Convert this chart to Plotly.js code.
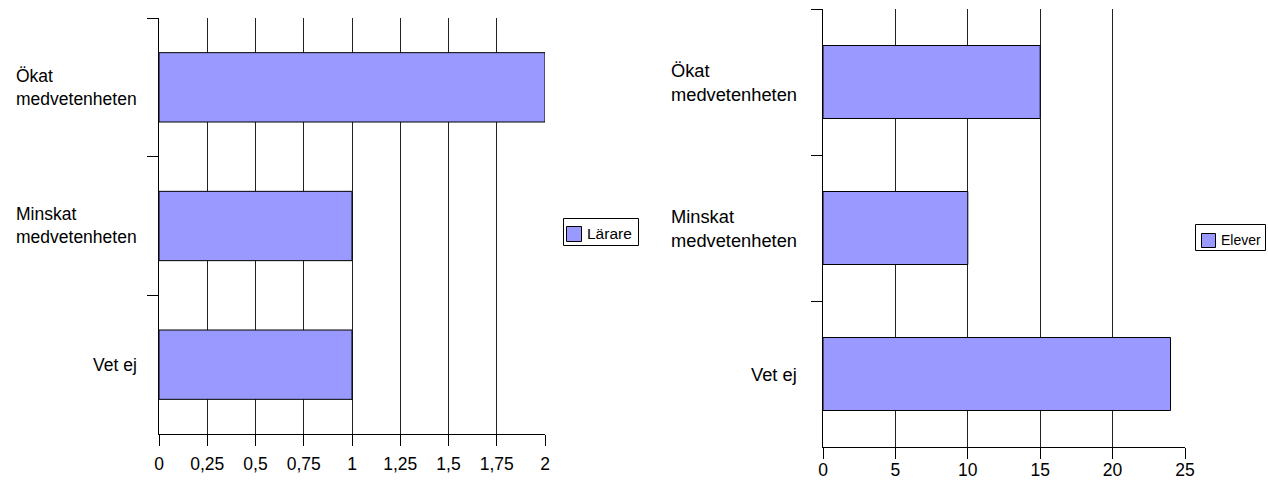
<!DOCTYPE html>
<html>
<head>
<meta charset="utf-8">
<script src="https://cdn.plot.ly/plotly-3.0.1.min.js"></script>
<style>html,body{margin:0;padding:0;background:#fff;}#chart{width:1268px;height:483px;}</style>
</head>
<body>
<div id="chart"></div>
<script>
const categories = ['Ökat medvetenheten', 'Minskat medvetenheten', 'Vet ej'];
const categoryLabels = ['Ökat<br>medvetenheten', 'Minskat<br>medvetenheten', 'Vet ej'];
const seriesLeftName = 'Lärare';
const seriesLeftValues = [2, 1, 1];
const seriesRightName = 'Elever';
const seriesRightValues = [15, 10, 24];
const leftTicks = [0, 0.25, 0.5, 0.75, 1, 1.25, 1.5, 1.75, 2];
const rightTicks = [0, 5, 10, 15, 20, 25];

const W = 1268, H = 483;
const FONT = 'Liberation Sans, Arial, sans-serif';
const BAR = '#9999ff';
const px = v => v / W;
const py = v => 1 - v / H;

const idx = categories.map((c, i) => i);

const traces = [
  {type: 'bar', orientation: 'h', name: seriesLeftName, x: seriesLeftValues, y: idx,
   width: 0.5, marker: {color: BAR, line: {color: '#000', width: 1}},
   xaxis: 'x', yaxis: 'y', showlegend: false, hoverinfo: 'none'},
  {type: 'bar', orientation: 'h', name: seriesRightName, x: seriesRightValues, y: idx,
   width: 0.5, marker: {color: BAR, line: {color: '#000', width: 1}},
   xaxis: 'x2', yaxis: 'y2', showlegend: false, hoverinfo: 'none'}
];

function xax(domain, ticks, fs, standoff, anchor) {
  return {domain: domain, range: [ticks[0], ticks[ticks.length - 1]], tickmode: 'array', tickvals: ticks,
    showgrid: true, gridcolor: '#222', gridwidth: 1, showline: true, linecolor: '#000', linewidth: 1,
    ticks: 'outside', ticklen: 11, tickcolor: '#000', tickwidth: 1, zeroline: false,
    tickfont: {family: FONT, size: fs, color: '#000'}, ticklabelstandoff: standoff, anchor: anchor, fixedrange: true};
}
// ticks at category boundaries, except the bottom one (which lies on the x axis)
function yax(domain, anchor) {
  const bounds = categories.slice(0, -1).map((c, i) => i - 0.5).concat([categories.length - 1.5]);
  return {domain: domain, range: [categories.length - 0.5, -0.5], tickmode: 'array',
    tickvals: bounds,
    ticks: 'outside', ticklen: 11, tickcolor: '#000', tickwidth: 1, showticklabels: false,
    showgrid: false, showline: true, linecolor: '#000', linewidth: 1, zeroline: false, anchor: anchor, fixedrange: true};
}

const annotations = [];
categoryLabels.forEach((t, i) => {
  annotations.push({text: t, x: px(139), xref: 'paper', xanchor: 'right', y: i, yref: 'y', yanchor: 'middle',
    align: 'left', showarrow: false, font: {family: FONT, size: 17.5, color: '#000'}});
  annotations.push({text: t, x: px(799), xref: 'paper', xanchor: 'right', y: i, yref: 'y2', yanchor: 'middle',
    align: 'left', showarrow: false, font: {family: FONT, size: 18.3, color: '#000'}});
});
// legends
annotations.push({text: seriesLeftName, x: px(585), xref: 'paper', xanchor: 'left', y: py(233), yref: 'paper', yanchor: 'middle',
  showarrow: false, font: {family: FONT, size: 15.5, color: '#000'}});
annotations.push({text: seriesRightName, x: px(1219), xref: 'paper', xanchor: 'left', y: py(240), yref: 'paper', yanchor: 'middle',
  showarrow: false, font: {family: FONT, size: 14, color: '#000'}});

const shapes = [
  {type: 'rect', xref: 'paper', yref: 'paper', x0: px(563.5), x1: px(638.5), y0: py(218.5), y1: py(245.5),
   line: {color: '#000', width: 1}, fillcolor: '#fff'},
  {type: 'rect', xref: 'paper', yref: 'paper', x0: px(566.5), x1: px(581.5), y0: py(226.5), y1: py(241.5),
   line: {color: '#000', width: 1}, fillcolor: BAR},
  {type: 'rect', xref: 'paper', yref: 'paper', x0: px(1195.5), x1: px(1265.5), y0: py(224.5), y1: py(250.5),
   line: {color: '#000', width: 1}, fillcolor: '#fff'},
  {type: 'rect', xref: 'paper', yref: 'paper', x0: px(1201.5), x1: px(1215.5), y0: py(233.5), y1: py(247.5),
   line: {color: '#000', width: 1}, fillcolor: BAR}
];

const layout = {
  width: W, height: H, margin: {l: 0, r: 0, t: 0, b: 0, pad: 0},
  paper_bgcolor: '#fff', plot_bgcolor: '#fff', separators: ', ',
  font: {family: FONT, color: '#000'},
  showlegend: false, barmode: 'group',
  xaxis: xax([px(159), px(545)], leftTicks, 17.5, 3, 'y'),
  yaxis: yax([py(434), py(18)], 'x'),
  xaxis2: xax([px(823), px(1185)], rightTicks, 17.5, -4, 'y2'),
  yaxis2: yax([py(447), py(9)], 'x2'),
  annotations: annotations, shapes: shapes
};

Plotly.newPlot('chart', traces, layout, {staticPlot: true, displayModeBar: false});
</script>
</body>
</html>
